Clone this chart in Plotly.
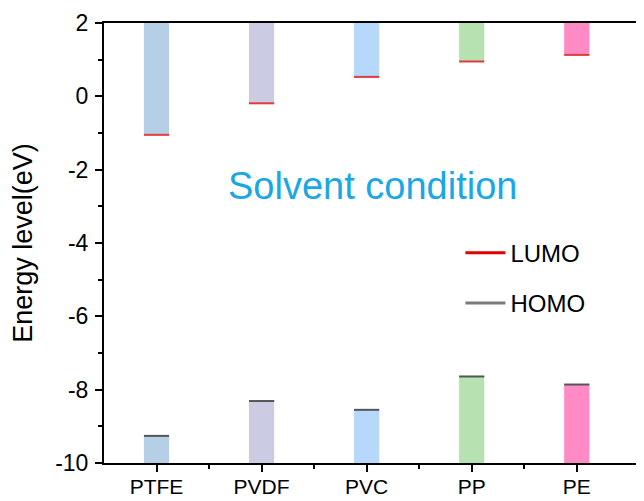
import plotly.graph_objects as go

categories = ["PTFE", "PVDF", "PVC", "PP", "PE"]
lumo = [-1.05, -0.19, 0.53, 0.95, 1.13]
homo = [-9.26, -8.31, -8.55, -7.64, -7.86]
bar_colors = ["#B4CFE6", "#CBCCE3", "#B5D8FB", "#B5E2B0", "#FF8AC4"]
y_top = 2
y_bottom = -10
y_ticks = [2, 0, -2, -4, -6, -8, -10]

xpos = list(range(1, len(categories) + 1))
bw = 0.24

fig = go.Figure()

# LUMO bars: from top down to LUMO value
fig.add_trace(go.Bar(
    x=xpos, y=[y_top - v for v in lumo], base=lumo, width=bw,
    marker=dict(color=bar_colors, line=dict(width=0)), showlegend=False,
    hoverinfo="skip"))
# HOMO bars: from bottom up to HOMO value
fig.add_trace(go.Bar(
    x=xpos, y=[v - y_bottom for v in homo], base=[y_bottom] * len(homo), width=bw,
    marker=dict(color=bar_colors, line=dict(width=0)), showlegend=False,
    hoverinfo="skip"))

def segs(vals):
    xs, ys = [], []
    for x, v in zip(xpos, vals):
        xs += [x - bw / 2, x + bw / 2, None]
        ys += [v, v, None]
    return xs, ys

lx, ly = segs(lumo)
hx, hy = segs(homo)
fig.add_trace(go.Scatter(x=lx, y=ly, mode="lines", line=dict(color="#E23A3F", width=2),
                         showlegend=False, hoverinfo="skip"))
fig.add_trace(go.Scatter(x=hx, y=hy, mode="lines", line=dict(color="#555555", width=2),
                         showlegend=False, hoverinfo="skip"))

# Legend entries
fig.add_trace(go.Scatter(x=[None], y=[None], mode="lines", name="LUMO",
                         line=dict(color="#E00000", width=3), legendgroup="a"))
fig.add_trace(go.Scatter(x=[None], y=[None], mode="lines", name="HOMO",
                         line=dict(color="#7A7A7A", width=3), legendgroup="b"))

fig.add_annotation(x=3.06, y=-2.45, xref="x", yref="y", text="Solvent condition",
                   showarrow=False, font=dict(size=38, color="#1AA7E6",
                                              family="Liberation Sans, Arial"))

fig.update_layout(
    width=644, height=501,
    margin=dict(l=96, r=8, t=15, b=46),
    plot_bgcolor="white", paper_bgcolor="white",
    barmode="overlay",
    font=dict(family="Liberation Sans, Arial", color="black"),
    legend=dict(x=0.66, y=0.528, xanchor="left", yanchor="top",
                font=dict(size=24, color="black"), bgcolor="rgba(0,0,0,0)",
                traceorder="grouped", tracegroupgap=16, itemwidth=40),
)
fig.update_xaxes(
    range=[0.5, 5.64], tickmode="array", tickvals=xpos, ticktext=categories,
    ticks="outside", ticklen=7, tickwidth=2, tickcolor="black",
    showline=True, linecolor="black", linewidth=2, mirror=True,
    showgrid=False, zeroline=False, tickfont=dict(size=21), automargin=False,
    ticklabelstandoff=-3,
    minor=dict(tickvals=[x + 0.5 for x in xpos[:-1]], ticks="outside",
               ticklen=4, tickwidth=2, tickcolor="black"),
)
fig.update_yaxes(
    range=[y_bottom, y_top], tickmode="array", tickvals=y_ticks,
    ticktext=[str(t) for t in y_ticks],
    ticks="outside", ticklen=7, tickwidth=2, tickcolor="black",
    showline=True, linecolor="black", linewidth=2, mirror=False,
    showgrid=False, zeroline=False, tickfont=dict(size=23), automargin=False,
    ticklabelstandoff=2,
    title=dict(text="Energy level(eV)", font=dict(size=27), standoff=15),
    minor=dict(tickvals=[t - 1 for t in y_ticks[:-1]], ticks="outside",
               ticklen=4, tickwidth=2, tickcolor="black"),
)

fig.write_html("out.html")
